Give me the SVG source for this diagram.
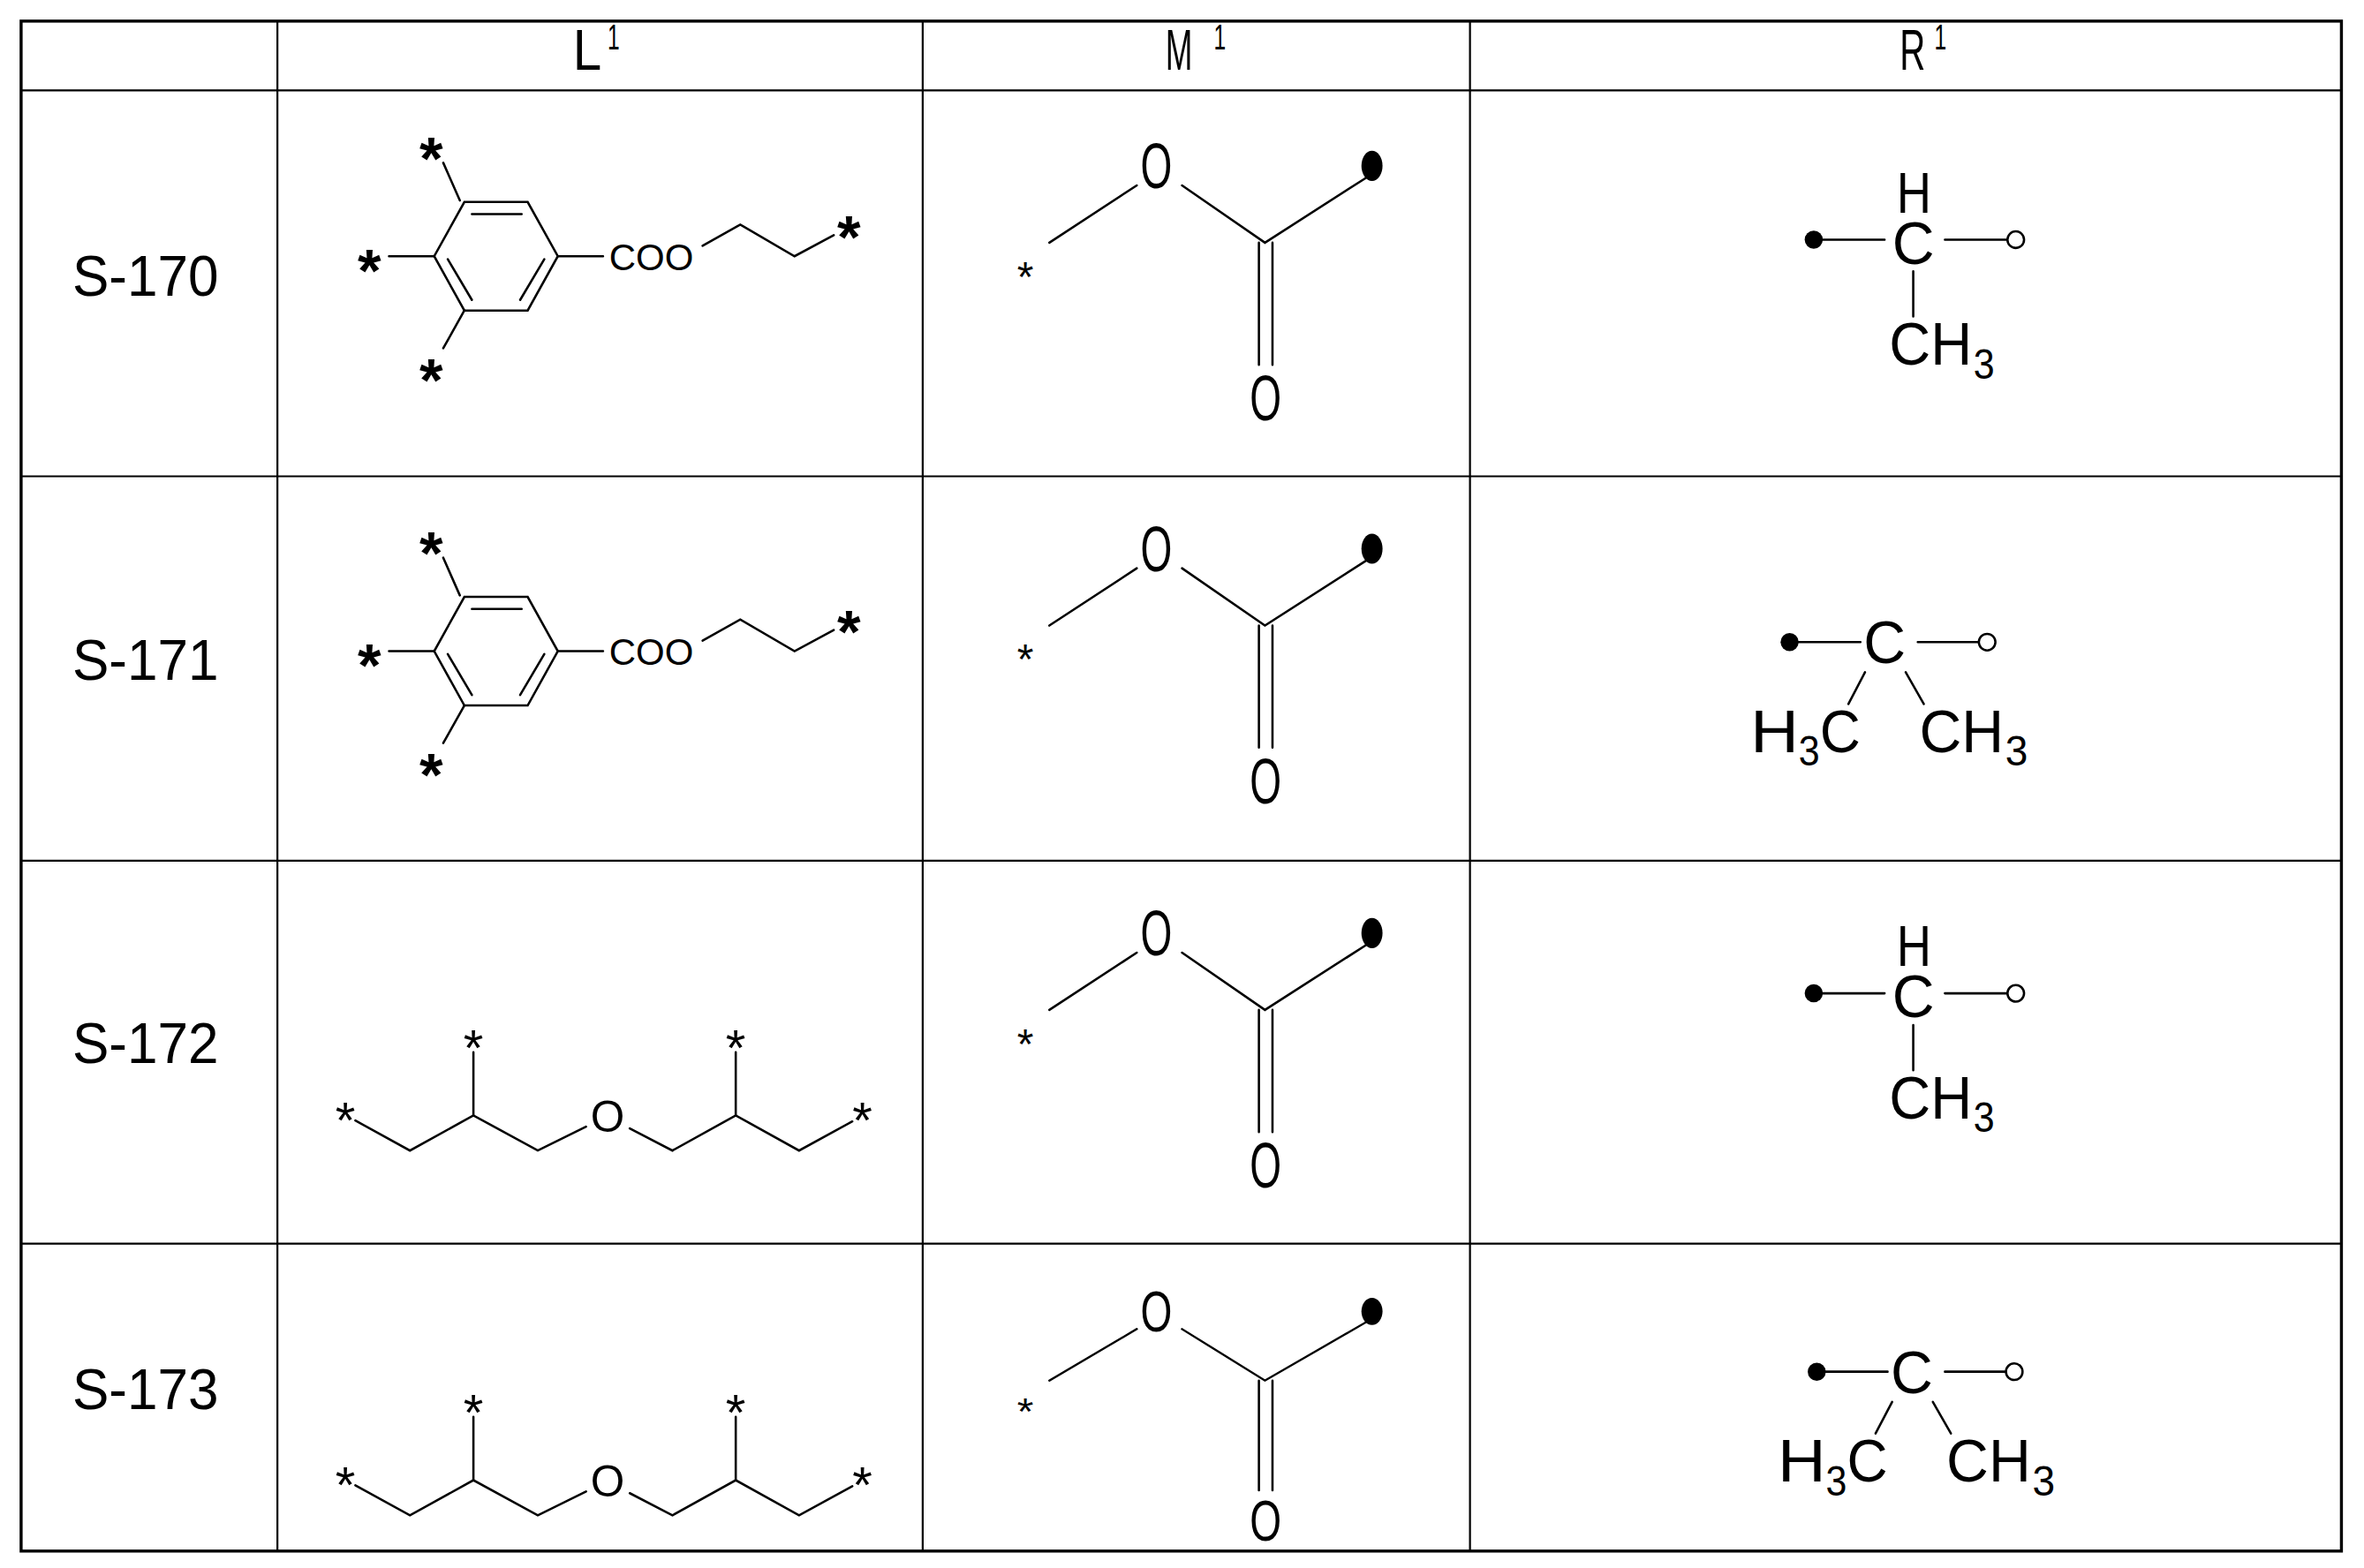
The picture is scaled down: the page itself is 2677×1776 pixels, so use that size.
<svg xmlns="http://www.w3.org/2000/svg" width="2677" height="1776" viewBox="0 0 2677 1776">
<style>
.t{font-family:"Liberation Sans",Arial,sans-serif;fill:#000}
.b{stroke:#000;stroke-width:1.5;fill:none;stroke-linecap:round}
.g{stroke:#000;fill:none}
.st{font-family:"Liberation Sans",Arial,sans-serif;fill:#000;text-anchor:middle}
</style>
<defs>
<g id="ring">
<polygon class="b" points="308,134 350,134 370,170 350,206 308,206 288,170"/>
<path class="b" d="M313,142H346M297,172L313,199M361,172L345,199M305,133L294,108M288,170H258M308,206L294,231M370,170H400"/>
<text class="t" x="404" y="179" font-size="25" textLength="56" lengthAdjust="spacingAndGlyphs">COO</text>
<polyline class="b" points="466,163 491,149 527,170 553,156"/>
<text class="st" x="286" y="119" font-size="40" font-weight="bold">*</text>
<text class="st" x="245" y="193" font-size="40" font-weight="bold">*</text>
<text class="st" x="286" y="266" font-size="40" font-weight="bold">*</text>
<text class="st" x="563" y="171" font-size="40" font-weight="bold">*</text>
</g>
<g id="chain">
<polyline class="b" points="235.7,743.4 271.9,763.3 314,740 356.7,763.3 388.7,747.5"/>
<polyline class="b" points="417.7,748.6 446,763.3 488,740 530,763.3 565.3,744"/>
<path class="b" d="M314,740V698M488,740V698"/>
<text class="st" x="229" y="755" font-size="34">*</text>
<text class="st" x="314" y="707" font-size="34">*</text>
<text class="st" x="488" y="707" font-size="34">*</text>
<text class="st" x="572" y="755" font-size="34">*</text>
<text class="st" x="403" y="751" font-size="29">O</text>
</g>
<g id="ester">
<text class="t" x="756.5" y="125" font-size="42" textLength="21" lengthAdjust="spacingAndGlyphs">O</text>
<path class="b" d="M696,161L754,123M784,123L839,161L906,118M835,161V242M844,161V242"/>
<text class="t" x="829" y="279" font-size="42" textLength="21" lengthAdjust="spacingAndGlyphs">O</text>
<ellipse cx="910" cy="110" rx="7" ry="10" fill="#000"/>
<text class="st" x="680" y="193" font-size="28">*</text>
</g>
<g id="rH">
<text class="t" x="1258" y="141" font-size="38" textLength="23" lengthAdjust="spacingAndGlyphs">H</text>
<circle cx="1203" cy="159" r="6" fill="#000"/>
<path class="b" d="M1203,159H1250M1290,159H1331M1269,180V210"/>
<text class="t" x="1255" y="175" font-size="40" textLength="28" lengthAdjust="spacingAndGlyphs">C</text>
<circle cx="1337" cy="159" r="5.5" fill="#fff" stroke="#000" stroke-width="1.5"/>
<text class="t" x="1253" y="242" font-size="40" textLength="55" lengthAdjust="spacingAndGlyphs">CH</text>
<text class="t" x="1309" y="251" font-size="28" textLength="14" lengthAdjust="spacingAndGlyphs">3</text>
</g>
<g id="rM">
<circle cx="1187" cy="426" r="6" fill="#000"/>
<path class="b" d="M1187,426H1234M1272,426H1312M1237,446L1226,467M1264,446L1276,467"/>
<text class="t" x="1236" y="440" font-size="40" textLength="28" lengthAdjust="spacingAndGlyphs">C</text>
<circle cx="1318" cy="426" r="5.5" fill="#fff" stroke="#000" stroke-width="1.5"/>
<text class="t" x="1161" y="499" font-size="40" textLength="32" lengthAdjust="spacingAndGlyphs">H</text>
<text class="t" x="1193" y="508" font-size="28" textLength="14" lengthAdjust="spacingAndGlyphs">3</text>
<text class="t" x="1207" y="499" font-size="40" textLength="27" lengthAdjust="spacingAndGlyphs">C</text>
<text class="t" x="1273" y="499" font-size="40" textLength="56" lengthAdjust="spacingAndGlyphs">CH</text>
<text class="t" x="1330" y="508" font-size="28" textLength="15" lengthAdjust="spacingAndGlyphs">3</text>
</g>
</defs>
<rect width="2677" height="1776" fill="#fff"/>
<g transform="scale(1.7073)">
<g id="table">
<rect class="g" x="14" y="14" width="1539" height="1015" stroke-width="2"/>
<path class="g" stroke-width="1.3" d="M184,14V1029M612,14V1029M975,14V1029M14,60H1553M14,316H1553M14,571H1553M14,825H1553"/>
</g>
<g id="header">
<text class="t" x="380" y="46" font-size="38" textLength="19" lengthAdjust="spacingAndGlyphs">L</text>
<text class="t" x="403" y="33" font-size="24" textLength="8" lengthAdjust="spacingAndGlyphs">1</text>
<text class="t" x="773" y="46" font-size="38" textLength="18" lengthAdjust="spacingAndGlyphs">M</text>
<text class="t" x="805" y="33" font-size="24" textLength="8" lengthAdjust="spacingAndGlyphs">1</text>
<text class="t" x="1260" y="46" font-size="38" textLength="17" lengthAdjust="spacingAndGlyphs">R</text>
<text class="t" x="1283" y="33" font-size="24" textLength="8" lengthAdjust="spacingAndGlyphs">1</text>
</g>
<g id="row-S170">
<text class="t" x="48" y="196" font-size="38" textLength="97" lengthAdjust="spacingAndGlyphs">S-170</text>
<use href="#ring"/><use href="#ester"/><use href="#rH"/>
</g>
<g id="row-S171">
<text class="t" x="48" y="451" font-size="38" textLength="97" lengthAdjust="spacingAndGlyphs">S-171</text>
<use href="#ring" transform="translate(0,262)"/><use href="#ester" transform="translate(0,254)"/><use href="#rM"/>
</g>
<g id="row-S172">
<text class="t" x="48" y="705" font-size="38" textLength="97" lengthAdjust="spacingAndGlyphs">S-172</text>
<use href="#chain"/><use href="#ester" transform="translate(0,509)"/><use href="#rH" transform="translate(0,500)"/>
</g>
<g id="row-S173">
<text class="t" x="48" y="935" font-size="38" textLength="97" lengthAdjust="spacingAndGlyphs">S-173</text>
<use href="#chain" transform="translate(0,242)"/><use href="#ester" transform="translate(0,771) scale(1,0.9)"/><use href="#rM" transform="translate(18,484)"/>
</g>
</g>
</svg>
